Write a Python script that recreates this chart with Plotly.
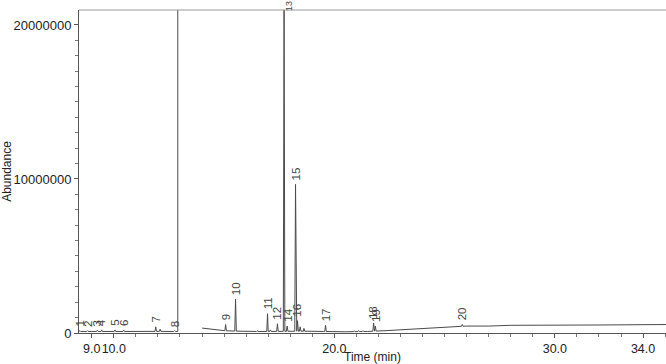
import plotly.graph_objects as go

# Baseline knots (time in min, abundance)
base1_t = [8.42, 9.0, 10.0, 11.0, 11.6, 12.4, 12.88]
base1_y = [100000, 100000, 100000, 100000, 110000, 100000, 100000]
base2_t = [14.0, 14.5, 15.0, 16.0, 17.0, 18.6, 19.5, 20.5, 21.5, 22.3, 23.0, 24.0, 25.0, 26.0, 27.0, 28.0, 30.0, 32.0, 35.04]
base2_y = [320000, 220000, 150000, 100000, 100000, 120000, 100000, 80000, 100000, 150000, 200000, 300000, 380000, 450000, 450000, 500000, 500000, 520000, 550000]

# Labelled peaks
peak_lbl = ["1", "2", "3", "4", "5", "6", "7", "8", "9", "10", "11", "12", "13", "14", "15", "16", "17", "18", "19", "20"]
peak_t = [8.46, 8.8, 9.25, 9.45, 10.05, 10.45, 11.9, 12.75, 15.07, 15.52, 16.97, 17.42, 17.72, 17.86, 18.24, 18.33, 19.6, 21.78, 21.86, 25.8]
peak_y = [150000, 150000, 180000, 200000, 200000, 180000, 400000, 150000, 550000, 2200000, 1250000, 600000, 21200000, 450000, 9650000, 800000, 500000, 650000, 450000, 550000]

# Unlabelled minor peaks
minor_t = [12.1, 15.9, 16.5, 17.1, 18.45, 18.62, 20.9, 21.1, 21.3, 24.2, 24.7]
minor_y = [250000, 150000, 150000, 200000, 400000, 300000, 150000, 160000, 150000, 320000, 330000]

# Solvent-delay marker (trace jumps off scale)
cut_t = 12.9
y_top = 20970000

half_w = 0.035


def interp(ts, ys, t):
    for i in range(len(ts) - 1):
        if ts[i] <= t <= ts[i + 1]:
            f = (t - ts[i]) / (ts[i + 1] - ts[i])
            return ys[i] + f * (ys[i + 1] - ys[i])
    return ys[-1] if t > ts[-1] else ys[0]


def build(bt, by, lo, hi):
    pts = list(zip(bt, by))
    for t, y in list(zip(peak_t, peak_y)) + list(zip(minor_t, minor_y)):
        if lo <= t <= hi:
            pts.append((t - half_w, interp(bt, by, t - half_w)))
            pts.append((t, y))
            pts.append((t + half_w, interp(bt, by, t + half_w)))
    pts.sort(key=lambda p: p[0])
    return [p[0] for p in pts], [p[1] for p in pts]


t1, y1 = build(base1_t, base1_y, 8.4, 12.9)
t2, y2 = build(base2_t, base2_y, 13.9, 35.1)
xs = t1 + [cut_t, cut_t, None] + t2
ys = y1 + [100000, 30000000, None] + y2

fig = go.Figure()
fig.add_trace(go.Scatter(x=xs, y=ys, mode="lines",
                         line=dict(color="#4a4a4a", width=1),
                         hoverinfo="skip", showlegend=False))

for lbl, t, y in zip(peak_lbl, peak_t, peak_y):
    clipped = y > y_top
    fig.add_annotation(x=t, y=min(y, y_top), text=lbl, textangle=-90,
                       showarrow=False, xanchor=("left" if clipped else "center"),
                       yanchor="bottom",
                       yshift=(-3 if clipped else 2), xshift=(-2 if clipped else 0),
                       font=dict(size=(9 if clipped else 11.5), color="#444"))

fig.update_layout(
    width=666, height=364,
    margin=dict(l=79, r=0, t=10, b=31),
    paper_bgcolor="white", plot_bgcolor="white",
    font=dict(family="Liberation Sans, Arial, sans-serif", size=12, color="#222"),
    xaxis=dict(range=[8.42, 35.04], tickvals=[9, 10, 20, 30, 34],
               ticktext=["9.0", "10.0", "20.0", "30.0", "34.0"], tickangle=0,
               ticks="outside", ticklen=4, tickcolor="#555",
               minor=dict(dtick=1, ticks="outside", ticklen=3, tickcolor="#777"),
               showline=True, linecolor="#555", linewidth=1,
               showgrid=False, zeroline=False, automargin=False,
               tickfont=dict(size=12.5, color="#222"),
               title=dict(text="Time (min)", standoff=0, font=dict(size=12, color="#222"))),
    yaxis=dict(range=[0, y_top], tickvals=[0, 10000000, 20000000],
               ticktext=["0", "10000000", "20000000"],
               ticks="outside", ticklen=4, tickcolor="#555",
               minor=dict(dtick=1000000, ticks="outside", ticklen=3, tickcolor="#777"),
               showline=True, linecolor="#555", linewidth=1,
               showgrid=False, zeroline=False, automargin=False,
               tickfont=dict(size=13, color="#222"),
               title=dict(text="Abundance", standoff=6, font=dict(size=12, color="#222"))),
)
fig.add_shape(type="line", xref="paper", yref="paper", x0=0, x1=1, y0=1, y1=1,
              line=dict(color="#999", width=1))

fig.write_html("out.html")
